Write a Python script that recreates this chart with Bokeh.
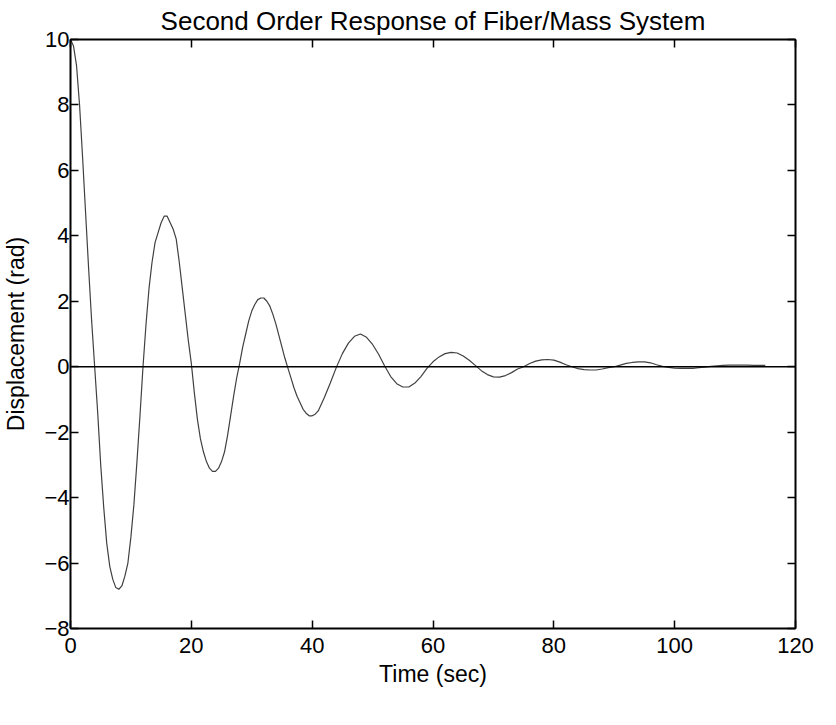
from bokeh.plotting import figure
from bokeh.models import LinearAxis, Range1d, Span, FixedTicker, CustomLabelingPolicy
from bokeh.embed import file_html
from bokeh.resources import INLINE

# Time (sec)
t = [0, 0.5, 1, 1.5, 2, 2.5, 3, 3.5, 4, 4.5, 5, 5.5, 6, 6.5, 7, 7.5, 8, 8.5, 9, 9.5,
     10, 10.5, 11, 11.5, 12, 12.5, 13, 13.5, 14, 14.5, 15, 15.5, 16, 16.5, 17, 17.5, 18, 18.5, 19, 19.5,
     20, 20.5, 21, 21.5, 22, 22.5, 23, 23.5, 24, 24.5, 25, 25.5, 26, 26.5, 27, 27.5, 28, 28.5, 29, 29.5,
     30, 30.5, 31, 31.5, 32, 32.5, 33, 33.5, 34, 34.5, 35, 35.5, 36, 36.5, 37, 37.5, 38, 38.5, 39, 39.5,
     40, 40.5, 41, 42, 43, 44, 45, 46, 47, 48, 49, 50, 51, 52, 53, 54, 55, 56, 57, 58, 59,
     60, 61, 62, 63, 64, 65, 66, 67, 68, 69, 70, 71, 72, 73, 74, 75, 76, 77, 78, 79,
     80, 81, 82, 83, 84, 85, 86, 87, 88, 89, 90, 91, 92, 93, 94, 95, 96, 97, 98, 99,
     100, 101, 102, 103, 104, 105, 106, 107, 108, 109, 110, 111, 112, 113, 114, 115]

# Displacement (rad)
disp = [10.0, 9.8, 9.2, 8.0, 6.4, 4.7, 3.0, 1.4, 0.0, -1.4, -3.0, -4.3, -5.4, -6.1, -6.5, -6.75, -6.8, -6.7, -6.4, -6.0,
        -5.2, -4.2, -2.9, -1.5, 0.0, 1.3, 2.4, 3.2, 3.8, 4.1, 4.4, 4.6, 4.6, 4.4, 4.2, 3.9, 3.2, 2.4, 1.6, 0.8,
        0.1, -0.8, -1.6, -2.2, -2.6, -2.9, -3.1, -3.2, -3.2, -3.1, -2.9, -2.6, -2.1, -1.5, -0.9, -0.35, 0.1, 0.6, 1.0, 1.4,
        1.7, 1.9, 2.05, 2.1, 2.1, 2.0, 1.85, 1.6, 1.3, 0.95, 0.6, 0.25, -0.05, -0.35, -0.65, -0.9, -1.1, -1.3, -1.42, -1.5,
        -1.5, -1.45, -1.35, -0.95, -0.5, -0.02, 0.4, 0.72, 0.93, 1.0, 0.9, 0.68, 0.38, 0.02, -0.3, -0.52, -0.62, -0.62, -0.5, -0.3, -0.05,
        0.15, 0.3, 0.4, 0.44, 0.42, 0.33, 0.2, 0.04, -0.12, -0.24, -0.31, -0.32, -0.27, -0.18, -0.07, 0.0, 0.1, 0.17, 0.21, 0.22,
        0.2, 0.14, 0.06, 0.0, -0.06, -0.09, -0.1, -0.1, -0.07, -0.03, 0.0, 0.05, 0.1, 0.13, 0.15, 0.15, 0.12, 0.06, 0.01, -0.02,
        -0.04, -0.05, -0.05, -0.05, -0.03, -0.01, 0.01, 0.03, 0.04, 0.05, 0.05, 0.05, 0.05, 0.04, 0.04, 0.04]

x_ticks = [0, 20, 40, 60, 80, 100, 120]
y_ticks = [-8, -6, -4, -2, 0, 2, 4, 6, 8, 10]

FONT = "Liberation Sans"

p = figure(width=820, height=709, output_backend="svg", toolbar_location=None,
           x_range=Range1d(0, 120), y_range=Range1d(-8, 10),
           x_axis_label="Time (sec)", y_axis_label="Displacement (rad)",
           title="Second Order Response of Fiber/Mass System",
           min_border_left=66, min_border_right=25, min_border_bottom=81, min_border_top=36)

p.title.align = "center"
p.title.text_font = FONT
p.title.text_font_size = "26px"
p.title.text_font_style = "normal"
p.title.text_color = "black"
p.title.standoff = 7

p.xgrid.visible = False
p.ygrid.visible = False
p.outline_line_color = "black"
p.outline_line_width = 1

top = LinearAxis()
right = LinearAxis()
p.add_layout(top, "above")
p.add_layout(right, "right")

for ax in [p.xaxis[0], top]:
    ax.ticker = FixedTicker(ticks=x_ticks)
for ax in [p.yaxis[0], right]:
    ax.ticker = FixedTicker(ticks=y_ticks)

for ax in p.xaxis + p.yaxis:
    ax.axis_line_color = "black"
    ax.axis_line_width = 2
    ax.major_tick_in = 8
    ax.major_tick_out = 0
    ax.major_tick_line_color = "black"
    ax.major_tick_line_width = 1.5
    ax.minor_tick_line_color = None
    ax.major_label_text_font = FONT
    ax.major_label_text_font_size = "22px"
    ax.major_label_text_color = "black"
    ax.axis_label_text_font = FONT
    ax.axis_label_text_font_size = "23px"
    ax.axis_label_text_font_style = "normal"
    ax.axis_label_text_color = "black"

no_labels = "const n = indices.size; for (let i = 0; i < n; i++) { indices.unset(i) } return indices"
for ax in [top, right]:
    ax.major_label_policy = CustomLabelingPolicy(code=no_labels)
    ax.major_label_text_font_size = "0px"
    ax.major_label_standoff = 0

p.xaxis[0].major_label_standoff = 13
p.xaxis[0].axis_label_standoff = 17
p.yaxis[0].major_label_standoff = 1
p.yaxis[0].axis_label_standoff = 12

p.add_layout(Span(location=0, dimension="width", line_color="black", line_width=1.5))
p.line(t, disp, line_color="#404040", line_width=1.2)

open("out.html", "w").write(file_html(p, INLINE))
